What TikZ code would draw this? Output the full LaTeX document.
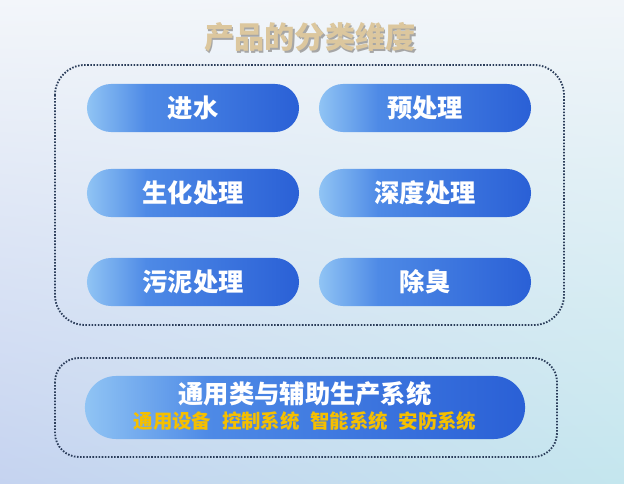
\documentclass[tikz,border=0pt]{standalone}
\usepackage{fontspec}
\newfontfamily\cjk{Noto Sans CJK SC}
\usetikzlibrary{positioning,shadings}
\definecolor{pillL}{HTML}{90C4F4}
\definecolor{pillM}{HTML}{4E8AE6}
\definecolor{pillR}{HTML}{2A60D6}
\definecolor{dotline}{HTML}{2B3D5A}
\definecolor{titlecol}{HTML}{DCC79E}
\definecolor{subcol}{HTML}{F5BF00}
\definecolor{bgUL}{HTML}{F3F6FA}
\definecolor{bgUR}{HTML}{F1F5F9}
\definecolor{bgLL}{HTML}{C5D3F0}
\definecolor{bgLR}{HTML}{C4E6EE}
\pgfdeclarehorizontalshading{pillshade}{100bp}{color(0bp)=(pillL); color(25bp)=(pillL);
	color(39bp)=(pillM); color(75bp)=(pillR); color(100bp)=(pillR)}

\begin{document}
\begin{tikzpicture}[
		x=0.025cm, y=-0.025cm,
		pill/.style={rounded corners=0.6cm, minimum width=5.3cm, minimum height=1.2cm,
			shading=pillshade, text=white,
			font=\cjk\bfseries\fontsize{18}{20}\selectfont},
		dotbox/.style={draw=dotline, line width=1.3pt, dash pattern=on 1.1pt off 1.1pt},
		]
		%background
		\useasboundingbox (0,0) rectangle (624,484);
		\shade[upper left=bgUL, upper right=bgUR, lower left=bgLL, lower right=bgLR]
			(0,0) rectangle (624,484);
		
		%title
		\node[text=black!35, font=\cjk\bfseries\fontsize{21.5}{24}\selectfont] at (311.5,39) {产品的分类维度};
		\node[text=titlecol, font=\cjk\bfseries\fontsize{21.5}{24}\selectfont] (title) at (310,37) {产品的分类维度};
		
		%frames
		\draw[dotbox, rounded corners=0.75cm] (55,65) rectangle (564,325);
		\draw[dotbox, rounded corners=0.6cm] (55,358) rectangle (557,457);
		
		%categories
		\node[pill] (inlet) at (193,108) {进水};
		\node[pill] (pre) at (425,108) {预处理};
		\node[pill] (bio) at (193,193) {生化处理};
		\node[pill] (deep) at (425,193) {深度处理};
		\node[pill] (sludge) at (193,282) {污泥处理};
		\node[pill] (odor) at (425,282) {除臭};
		
		%general systems
		\node[pill, minimum width=11cm, minimum height=1.575cm, rounded corners=0.78cm] (general) at (305,407.5) {};
		\node[text=white, font=\cjk\bfseries\fontsize{18}{20}\selectfont] (gentitle) at (305,394) {通用类与辅助生产系统};
		\node[text=subcol, font=\cjk\bfseries\fontsize{13.8}{16}\selectfont] (gensub) at (305,421)
			{通用设备\hspace{0.55em}控制系统\hspace{0.55em}智能系统\hspace{0.55em}安防系统};
	\end{tikzpicture}
\end{document}
